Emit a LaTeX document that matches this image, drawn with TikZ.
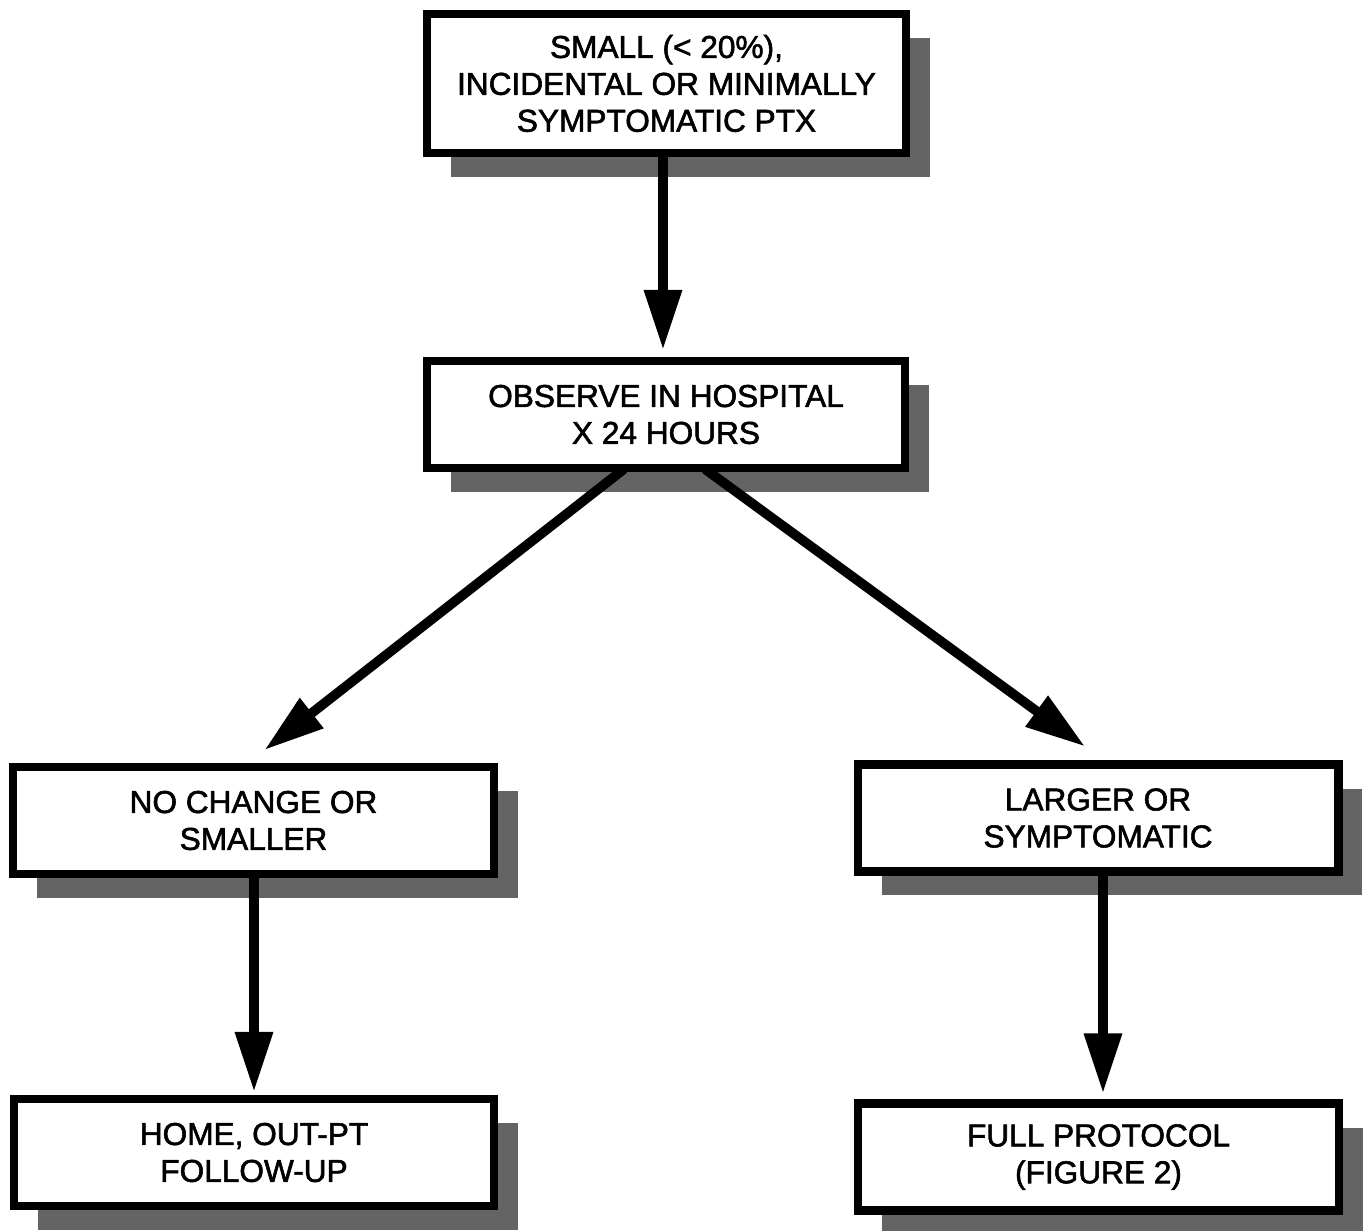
\documentclass[tikz,border=0pt]{standalone}
\usepackage{fontspec}
\setmainfont{Liberation Sans}
\newfontfamily\boxfont{Liberation Sans}[FakeBold=1.8]
\usetikzlibrary{arrows.meta,calc,shadows}
\definecolor{shadegray}{RGB}{100,100,100}

\begin{document}
\begin{tikzpicture}[
    x=0.02cm, y=-0.02cm,
    box/.style={rectangle, draw=black, line width=4.6pt, fill=white, minimum width=9.62cm, minimum height=2.14cm, align=center, font=\boxfont\fontsize{18}{21}\selectfont,
        drop shadow={shadow xshift=0.48cm, shadow yshift=-0.48cm, fill=shadegray, opacity=1}},
    flow/.style={-{Triangle[length=1.2cm, width=0.72cm]}, line width=5.5pt}
]

% === LAYOUT (pixel grid, y downwards) ===
% top box: x 423-910, y 10-157
% observe box: y 357-472
% outcome boxes: y 760-878, left x 9-498, right x 854-1342
% final boxes: y 1095-1214
\useasboundingbox (0,0) rectangle (1370,1231);

% Boxes
\node[box, minimum width=9.58cm, minimum height=2.78cm] (ptx) at (666.5, 83.5) {SMALL (< 20\%),\\INCIDENTAL OR MINIMALLY\\SYMPTOMATIC PTX};
\node[box, minimum width=9.56cm] (obs) at (666, 414.5) {OBSERVE IN HOSPITAL\\X 24 HOURS};
\node[box] (nochg) at (253.5, 820.5) {NO CHANGE OR\\SMALLER};
\node[box] (larger) at (1098, 818) {LARGER OR\\SYMPTOMATIC};
\node[box] (home) at (254, 1152.5) {HOME, OUT-PT\\FOLLOW-UP};
\node[box] (full) at (1098.5, 1157) {FULL PROTOCOL\\(FIGURE 2)};

% Arrows
\draw[flow] ($(ptx.south)+(-3.5,0)$) -- ($(obs.north)+(-3,-7)$);
\draw[flow] ($(obs.south)+(-42,-3)$) -- ($(nochg.north)+(11,-13)$);
\draw[flow] ($(obs.south)+(39,-3)$) -- ($(larger.north)+(-13,-14)$);
\draw[flow] ($(nochg.south)+(0.5,0)$) -- ($(home.north)+(0,-3)$);
\draw[flow] ($(larger.south)+(5,0)$) -- ($(full.north)+(4.5,-6)$);

\end{tikzpicture}
\end{document}
